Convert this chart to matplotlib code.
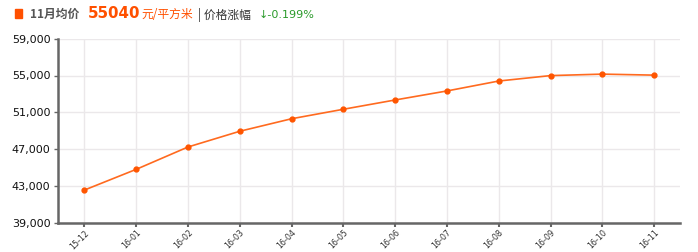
import matplotlib
matplotlib.use("Agg")
import matplotlib.pyplot as plt
from matplotlib.patches import Rectangle

months = ["15-12", "16-01", "16-02", "16-03", "16-04", "16-05",
          "16-06", "16-07", "16-08", "16-09", "16-10", "16-11"]
prices = [42550, 44800, 47230, 48940, 50300, 51330,
          52340, 53320, 54400, 54990, 55150, 55040]
yticks = [39000, 43000, 47000, 51000, 55000, 59000]

W, H = 698, 252
fig = plt.figure(figsize=(W / 100, H / 100), dpi=100)
fig.patch.set_facecolor("white")

ax = fig.add_axes([57.5 / W, 1 - 222.7 / H, (680 - 57.5) / W, (222.7 - 38.7) / H])
x = list(range(len(months)))
ax.plot(x, prices, color="#ff6a1f", lw=1.2, marker="o", ms=3.5,
        mfc="#ff5500", mec="#ff5500", zorder=3, clip_on=False)

ax.set_xlim(-0.52, 11.5)
ax.set_ylim(yticks[0], yticks[-1])
ax.set_yticks(yticks)
ax.set_yticklabels([f"{v:,}" for v in yticks])
ax.set_xticks(x)
ax.set_xticklabels(months, rotation=45, ha="right", rotation_mode="anchor")

ax.grid(True, color="#ebe8ea", lw=1)
ax.set_axisbelow(True)
for s in ["top", "right"]:
    ax.spines[s].set_visible(False)
for s in ["left", "bottom"]:
    ax.spines[s].set_color("#666666")
    ax.spines[s].set_linewidth(1.8)
ax.tick_params(axis="y", length=3, width=1, color="#666666", labelsize=8,
               labelcolor="#111111", pad=2)
ax.tick_params(axis="x", length=3, width=1.5, color="#666666", labelsize=5.8,
               labelcolor="#333333", pad=1)
for lab in ax.get_yticklabels():
    lab.set_family(["DejaVu Sans"])

# Header
fam = ["Noto Sans CJK SC", "DejaVu Sans"]
yc = 1 - 14.5 / H
fig.patches.append(Rectangle((15 / W, 1 - 17.5 / H), 6.5 / W, 8.5 / H,
                             transform=fig.transFigure, color="#ff5000"))
fig.text(30 / W, yc, "11月均价", color="#555555", fontsize=8.5,
         fontweight="bold", family=fam, va="center")
fig.text(88 / W, yc + 0.5 / H, "55040", color="#ff5000", fontsize=10.8,
         fontweight="bold", family=["DejaVu Sans"], va="center")
fig.text(141 / W, yc, "元/平方米", color="#ff5000", fontsize=8.5,
         family=fam, va="center")
fig.text(198 / W, yc, "| 价格涨幅", color="#333333", fontsize=8.5,
         family=fam, va="center")
fig.text(259 / W, yc, "↓-0.199%", color="#2a9a2a", fontsize=8,
         family=["DejaVu Sans"], va="center")

fig.savefig("out.png", dpi=100, facecolor="white")
